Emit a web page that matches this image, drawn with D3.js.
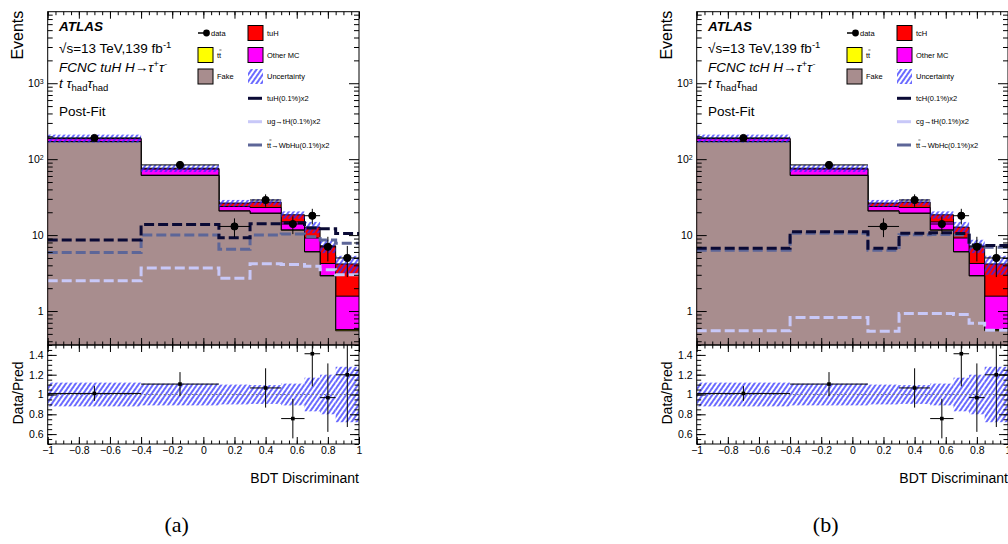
<!DOCTYPE html>
<html>
<head>
<meta charset="utf-8">
<script src="https://cdn.jsdelivr.net/npm/d3@7"></script>
<style>
  body { margin: 0; background: #fff; }
  svg { display: block; font-family: "Liberation Sans", Arial, sans-serif; }
</style>
</head>
<body>
<svg id="chart" width="1008" height="544"></svg>
<script>
// BDT discriminant binning
const binEdges = [-1, -0.4, 0.1, 0.3, 0.5, 0.65, 0.75, 0.85, 1];

// observed data (same in both channels)
const dataCounts = [190, 84, 13, 29, 14, 18, 7, 5];
const dataErrors = [14, 9.2, 3.6, 5.4, 3.7, 4.2, 2.5, 2.2];

// post-fit background stack
const fakeYields = [170, 61, 20.7, 19.3, 11.6, 6.0, 2.9, 0.55];
const ttbarYields = [1.0, 0.5, 0.2, 0.2, 0.1, 0.05, 0.03, 0.02];
const otherMCYields = [15, 12.5, 2.9, 3.6, 3.2, 3.1, 1.3, 1.0];
const tuHYields = [2, 2, 2.6, 4.1, 3.6, 3.6, 3.0, 2.6];
const tcHYields = [2, 2, 2.6, 4.1, 3.6, 3.6, 3.0, 2.6];
const uncRel = [0.12, 0.11, 0.10, 0.095, 0.11, 0.17, 0.20, 0.28];

// signal shapes, BR = 0.1% and scaled x2
const tuHSignal = [8.6, 13.8, 9.2, 14.1, 14.5, 12.4, 12.1, 10.5];
const ugtHSignal = [2.5, 3.7, 2.7, 4.2, 4.1, 3.9, 3.5, 3.0];
const ttWbHuSignal = [5.9, 10.0, 6.5, 10.0, 10.3, 9.5, 8.6, 7.8];
const tcHSignal = [6.7, 11.1, 6.7, 10.6, 10.7, 10.5, 7.4, 7.3];
const cgtHSignal = [0.55, 0.82, 0.54, 0.93, 0.93, 0.90, 0.69, 0.56];
const ttWbHcSignal = [6.3, 10.6, 6.3, 10.1, 10.2, 10.0, 7.0, 6.9];

// axes
const xTicks = [-1, -0.8, -0.6, -0.4, -0.2, 0, 0.2, 0.4, 0.6, 0.8, 1];
const mainTicks = [1, 10, 100, 1000];
const ratioTicks = [0.6, 0.8, 1, 1.2, 1.4];

const panels = [
  { x0: 47.7, sigName: "tuH", sigYields: tuHYields,
    lines: [tuHSignal, ugtHSignal, ttWbHuSignal],
    lineNames: ["tuH(0.1%)x2", "ug→tH(0.1%)x2", "TT→WbHu(0.1%)x2"],
    proc: "tuH", caption: "(a)" },
  { x0: 696.7, sigName: "tcH", sigYields: tcHYields,
    lines: [tcHSignal, cgtHSignal, ttWbHcSignal],
    lineNames: ["tcH(0.1%)x2", "cg→tH(0.1%)x2", "TT→WbHc(0.1%)x2"],
    proc: "tcH", caption: "(b)" }
];

const plotWidth = 311.3;
const mainTop = 11.7, mainBottom = 345, ratioBottom = 444;
const colours = { fake: "#a88d8e", ttbar: "#ffff00", other: "#ff00ff", sig: "#ff0000" };
const lineColours = ["#0a0a35", "#c8c8f8", "#5d6698"];

const svg = d3.select("#chart");
const defs = svg.append("defs");
defs.append("pattern")
  .attr("id", "hatch")
  .attr("patternUnits", "userSpaceOnUse")
  .attr("width", 4).attr("height", 4)
  .attr("patternTransform", "rotate(35)")
  .append("line")
  .attr("x1", 2).attr("y1", 0).attr("x2", 2).attr("y2", 4)
  .attr("stroke", "#2a2aff").attr("stroke-width", 1.4);

// "TT" in a name stands for t-tbar: write "tt" and draw the bar over the second t
function richLabel(parent, x, y, str) {
  const t = parent.append("text").attr("x", x).attr("y", y).attr("dy", "0.35em")
    .text(str.replace("TT", "tt"));
  if (str.startsWith("TT")) {
    const node = t.node();
    const a = node.getStartPositionOfChar(1), b = node.getEndPositionOfChar(1);
    parent.append("line").attr("x1", a.x + 0.3).attr("x2", b.x + 0.3)
      .attr("y1", y - 5).attr("y2", y - 5)
      .attr("stroke", "#000").attr("stroke-width", 0.6);
  }
}

function ticks(g, axis, tr) {
  return g.append("g").attr("transform", tr).call(axis)
    .call(a => a.select(".domain").remove())
    .call(a => a.selectAll("line").attr("stroke", "#000"));
}

function drawPanel(p, idx) {
  const g = svg.append("g");
  const x = d3.scaleLinear().domain([-1, 1]).range([p.x0, p.x0 + plotWidth]);
  const y = d3.scaleLog().domain([0.357, 8750]).range([mainBottom, mainTop]);
  const yr = d3.scaleLinear().domain([0.5, 1.5]).range([ratioBottom, mainBottom]);
  const n = dataCounts.length;

  const clipMain = "clipMain" + idx, clipRatio = "clipRatio" + idx;
  defs.append("clipPath").attr("id", clipMain).append("rect")
    .attr("x", x(-1)).attr("y", mainTop).attr("width", plotWidth).attr("height", mainBottom - mainTop);
  defs.append("clipPath").attr("id", clipRatio).append("rect")
    .attr("x", x(-1)).attr("y", mainBottom).attr("width", plotWidth).attr("height", ratioBottom - mainBottom);

  const main = g.append("g").attr("clip-path", `url(#${clipMain})`);

  // stack, drawn like ROOT: cumulative histograms from the top down
  const rows = d3.range(n).map(i => ({
    fake: fakeYields[i], ttbar: ttbarYields[i], other: otherMCYields[i], sig: p.sigYields[i]
  }));
  const series = d3.stack().keys(["fake", "ttbar", "other", "sig"])(rows);
  const stepPts = vals => binEdges.map((e, i) => ({ x: e, v: vals[Math.min(i, n - 1)] }));
  const area = d3.area().curve(d3.curveStepAfter)
    .x(d => x(d.x)).y0(mainBottom).y1(d => y(d.v));
  const line = d3.line().curve(d3.curveStepAfter).x(d => x(d.x)).y(d => y(d.v));

  series.slice().reverse().forEach(s => {
    const cum = s.map(d => d[1]);
    main.append("path").attr("d", area(stepPts(cum))).attr("fill", colours[s.key]);
    main.append("path").attr("d", line(stepPts(cum)))
      .attr("fill", "none").attr("stroke", "#000").attr("stroke-width", 1);
  });

  const totals = rows.map(r => r.fake + r.ttbar + r.other + r.sig);

  // uncertainty hatch
  main.selectAll(".unc").data(totals).enter().append("rect")
    .attr("x", (d, i) => x(binEdges[i]))
    .attr("width", (d, i) => x(binEdges[i + 1]) - x(binEdges[i]))
    .attr("y", (d, i) => y(d * (1 + uncRel[i])))
    .attr("height", (d, i) => y(d * (1 - uncRel[i])) - y(d * (1 + uncRel[i])))
    .attr("fill", "url(#hatch)");

  // signal lines
  [2, 1, 0].forEach(k => {
    main.append("path").attr("d", line(stepPts(p.lines[k])))
      .attr("fill", "none").attr("stroke", lineColours[k])
      .attr("stroke-width", 3).attr("stroke-dasharray", "10,4");
  });

  // data
  const centres = d3.range(n).map(i => (binEdges[i] + binEdges[i + 1]) / 2);
  const dataG = main.append("g").attr("stroke", "#000").attr("stroke-width", 1);
  dataCounts.forEach((d, i) => {
    dataG.append("line").attr("x1", x(centres[i])).attr("x2", x(centres[i]))
      .attr("y1", y(d - dataErrors[i])).attr("y2", y(d + dataErrors[i]));
    dataG.append("line").attr("x1", x(binEdges[i])).attr("x2", x(binEdges[i + 1]))
      .attr("y1", y(d)).attr("y2", y(d));
    dataG.append("circle").attr("cx", x(centres[i])).attr("cy", y(d)).attr("r", 3.6).attr("fill", "#000");
  });

  // ratio panel
  const ratio = g.append("g").attr("clip-path", `url(#${clipRatio})`);
  ratio.selectAll(".runc").data(uncRel).enter().append("rect")
    .attr("x", (d, i) => x(binEdges[i]))
    .attr("width", (d, i) => x(binEdges[i + 1]) - x(binEdges[i]))
    .attr("y", d => yr(1 + d))
    .attr("height", d => yr(1 - d) - yr(1 + d))
    .attr("fill", "url(#hatch)");
  ratio.append("line").attr("x1", x(-1)).attr("x2", x(1)).attr("y1", yr(1)).attr("y2", yr(1))
    .attr("stroke", "#777").attr("stroke-width", 1).attr("stroke-dasharray", "2,2");
  const rG = ratio.append("g").attr("stroke", "#000").attr("stroke-width", 1);
  dataCounts.forEach((d, i) => {
    const r = d / totals[i], e = dataErrors[i] / totals[i];
    if (r < 0.5 || r > 1.5) return;
    rG.append("line").attr("x1", x(centres[i])).attr("x2", x(centres[i]))
      .attr("y1", yr(r - e)).attr("y2", yr(r + e));
    rG.append("line").attr("x1", x(binEdges[i])).attr("x2", x(binEdges[i + 1]))
      .attr("y1", yr(r)).attr("y2", yr(r));
    rG.append("rect").attr("x", x(centres[i]) - 1.8).attr("y", yr(r) - 1.8)
      .attr("width", 3.6).attr("height", 3.6).attr("fill", "#000").attr("stroke", "none");
  });

  // frames
  g.append("rect").attr("x", x(-1)).attr("y", mainTop).attr("width", plotWidth)
    .attr("height", mainBottom - mainTop).attr("fill", "none").attr("stroke", "#000");
  g.append("rect").attr("x", x(-1)).attr("y", mainBottom).attr("width", plotWidth)
    .attr("height", ratioBottom - mainBottom).attr("fill", "none").attr("stroke", "#000");

  // ticks
  const xMinor = d3.range(-1, 1.0001, 0.05).map(v => +v.toFixed(2));
  const logMinor = [];
  [0.1, 1, 10, 100, 1000].forEach(dec => d3.range(2, 10).forEach(m => {
    const v = m * dec;
    if (v > 0.357 && v < 8750) logMinor.push(v);
  }));
  const rMinor = d3.range(0.5, 1.5001, 0.05).map(v => +v.toFixed(2));
  const none = () => "";

  ticks(g, d3.axisBottom(x).tickValues(xTicks).tickSize(-7).tickFormat(none), `translate(0,${mainBottom})`);
  ticks(g, d3.axisBottom(x).tickValues(xMinor).tickSize(-3.5).tickFormat(none), `translate(0,${mainBottom})`);
  ticks(g, d3.axisTop(x).tickValues(xTicks).tickSize(-7).tickFormat(none), `translate(0,${mainTop})`);
  ticks(g, d3.axisTop(x).tickValues(xMinor).tickSize(-3.5).tickFormat(none), `translate(0,${mainTop})`);
  ticks(g, d3.axisLeft(y).tickValues(logMinor).tickSize(-5).tickFormat(none), `translate(${x(-1)},0)`);
  ticks(g, d3.axisRight(y).tickValues(logMinor).tickSize(-5).tickFormat(none), `translate(${x(1)},0)`);
  ticks(g, d3.axisRight(y).tickValues(mainTicks).tickSize(-10).tickFormat(none), `translate(${x(1)},0)`);
  const yAxis = ticks(g, d3.axisLeft(y).tickValues(mainTicks).tickSize(-10).tickPadding(4)
    .tickFormat(d => d < 100 ? String(d) : "10"), `translate(${x(-1)},0)`);

  ticks(g, d3.axisBottom(x).tickValues(xTicks).tickSize(-7).tickPadding(3)
    .tickFormat(d => d3.format("")(d)), `translate(0,${ratioBottom})`);
  ticks(g, d3.axisBottom(x).tickValues(xMinor).tickSize(-3.5).tickFormat(none), `translate(0,${ratioBottom})`);
  ticks(g, d3.axisTop(x).tickValues(xTicks).tickSize(-7).tickFormat(none), `translate(0,${mainBottom})`);
  ticks(g, d3.axisTop(x).tickValues(xMinor).tickSize(-3.5).tickFormat(none), `translate(0,${mainBottom})`);
  ticks(g, d3.axisLeft(yr).tickValues(ratioTicks).tickSize(-9).tickPadding(4)
    .tickFormat(d => d3.format("")(d)), `translate(${x(-1)},0)`);
  ticks(g, d3.axisLeft(yr).tickValues(rMinor).tickSize(-4.5).tickFormat(none), `translate(${x(-1)},0)`);
  ticks(g, d3.axisRight(yr).tickValues(ratioTicks).tickSize(-9).tickFormat(none), `translate(${x(1)},0)`);
  ticks(g, d3.axisRight(yr).tickValues(rMinor).tickSize(-4.5).tickFormat(none), `translate(${x(1)},0)`);

  g.selectAll(".tick text").attr("font-family", "Liberation Sans, Arial, sans-serif")
    .attr("font-size", 10.5).attr("fill", "#000");
  yAxis.selectAll(".tick text").filter(d => d >= 100)
    .append("tspan").attr("dy", "-0.5em").attr("font-size", 7).text(d => Math.log10(d));

  // axis titles
  g.append("text").attr("transform", `translate(${p.x0 - 24.5},${mainTop - 1}) rotate(-90)`)
    .attr("text-anchor", "end").attr("font-size", 16).text("Events");
  g.append("text").attr("transform", `translate(${p.x0 - 24.5},393) rotate(-90)`)
    .attr("text-anchor", "middle").attr("font-size", 14).text("Data/Pred");
  g.append("text").attr("x", x(1)).attr("y", 483).attr("text-anchor", "end")
    .attr("font-size", 14).text("BDT Discriminant");

  // labels
  const tx = p.x0 + 11.3;
  g.append("text").attr("x", tx).attr("y", 31).attr("font-size", 13.5)
    .attr("font-weight", "bold").attr("font-style", "italic").text("ATLAS");
  const lumi = g.append("text").attr("x", tx).attr("y", 53).attr("font-size", 13.5);
  lumi.append("tspan").text("√s=13 TeV,139 fb");
  lumi.append("tspan").attr("dy", -5).attr("font-size", 9.5).text("-1");
  const proc = g.append("text").attr("x", tx).attr("y", 71.5).attr("font-size", 13.5).attr("font-style", "italic");
  proc.append("tspan").text(`FCNC ${p.proc} H→τ`);
  proc.append("tspan").attr("dy", -5).attr("font-size", 9.5).text("+");
  proc.append("tspan").attr("dy", 5).text("τ");
  proc.append("tspan").attr("dy", -5).attr("font-size", 9.5).text("-");
  const chan = g.append("text").attr("x", tx).attr("y", 88).attr("font-size", 13.5);
  chan.append("tspan").attr("font-style", "italic").text("t  τ");
  chan.append("tspan").attr("dy", 3).attr("font-size", 9.5).text("had");
  chan.append("tspan").attr("dy", -3).attr("font-style", "italic").text("τ");
  chan.append("tspan").attr("dy", 3).attr("font-size", 9.5).text("had");
  g.append("text").attr("x", tx).attr("y", 116).attr("font-size", 13.5).text("Post-Fit");

  // legend
  const lg = g.append("g").attr("font-size", 7.5);
  const c1 = p.x0 + 150.3, c2 = p.x0 + 200.3;
  lg.append("line").attr("x1", c1).attr("x2", c1 + 9).attr("y1", 33).attr("y2", 33)
    .attr("stroke", "#000").attr("stroke-width", 1.5);
  lg.append("circle").attr("cx", c1 + 8.5).attr("cy", 33).attr("r", 3.4).attr("fill", "#000");
  richLabel(lg, c1 + 13, 33, "data");
  const boxes = [
    [c2, 33, colours.sig, p.sigName],
    [c1, 55, colours.ttbar, "TT"],
    [c2, 55, colours.other, "Other MC"],
    [c1, 76.5, colours.fake, "Fake"],
    [c2, 76.5, "url(#hatch)", "Uncertainty"]
  ];
  boxes.forEach(([bx, by, fill, name]) => {
    lg.append("rect").attr("x", bx).attr("y", by - 7.5).attr("width", 15).attr("height", 15)
      .attr("fill", fill).attr("stroke", name === "Uncertainty" ? "none" : "#000");
    richLabel(lg, bx + 19, by, name);
  });
  [98.3, 121.7, 145].forEach((ly, k) => {
    lg.append("line").attr("x1", c2).attr("x2", c2 + 14).attr("y1", ly).attr("y2", ly)
      .attr("stroke", lineColours[k]).attr("stroke-width", 3);
    richLabel(lg, c2 + 19, ly, p.lineNames[k]);
  });

  // caption
  svg.append("text").attr("x", p.x0 + 129).attr("y", 532).attr("text-anchor", "middle")
    .attr("font-family", "Liberation Serif, serif").attr("font-size", 22).text(p.caption);
}

panels.forEach(drawPanel);
</script>
</body>
</html>
